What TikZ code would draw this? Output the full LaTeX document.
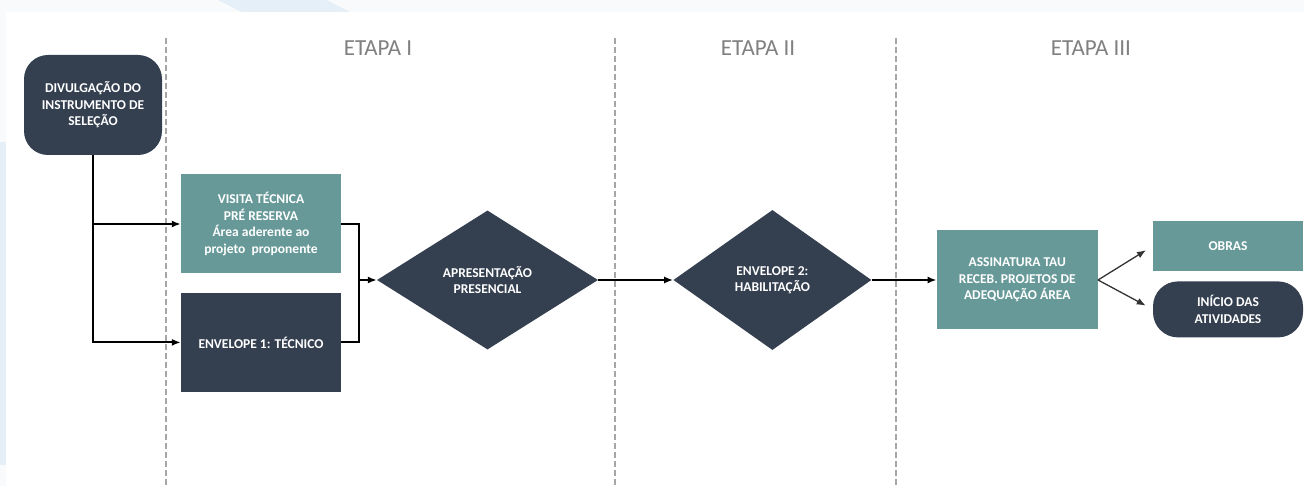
\documentclass[tikz,border=0pt]{standalone}
\usepackage{fontspec}
\setmainfont{Carlito}
\usetikzlibrary{positioning, arrows.meta, shapes}

\definecolor{slate}{RGB}{52,63,80}
\definecolor{petrol}{RGB}{104,153,153}
\definecolor{etapagray}{RGB}{128,128,128}
\definecolor{bgblue}{RGB}{228,239,248}
\definecolor{bgpale}{RGB}{248,250,252}

\begin{document}
\begin{tikzpicture}[x=1pt, y=-1pt, >={Latex[length=9pt, width=7pt]},
    dark/.style={fill=slate, text=white, align=center, inner sep=0pt,
      font=\bfseries\fontsize{13.5}{16.5}\selectfont},
    light/.style={dark, fill=petrol},
    box/.style={rectangle, minimum width=160pt, minimum height=99pt},
    choice/.style={diamond, inner sep=0pt},
    stage/.style={text=etapagray, font=\fontsize{23}{26}\selectfont},
    divider/.style={draw=black!35, line width=1.4pt, dash pattern=on 6pt off 3pt},
    flow/.style={draw=black, line width=1.8pt},
    split/.style={draw=black!80, line width=1.3pt, shorten >=8pt}]
  \useasboundingbox (0,0) rectangle (1304,486);

  % backdrop
  \fill[bgpale] (0,0) rectangle (1304,486);
  \fill[white] (6,12) rectangle (1304,486);
  \fill[bgblue] (0,142) rectangle (6,465);
  \fill[bgblue] (218,0) -- (326,0) -- (350,12) -- (242,12) -- cycle;

  % stages
  \foreach \x in {166,615,896}
    \draw[divider] (\x,38) -- (\x,486);
  \node[stage] (et1) at (378,48) {ETAPA I};
  \node[stage] (et2) at (758,48) {ETAPA II};
  \node[stage] (et3) at (1091,48) {ETAPA III};

  \node[dark, rounded corners=24pt, minimum width=138pt, minimum height=100pt] (div) at (93,105) {DIVULGAÇÃO DO\\INSTRUMENTO DE\\SELEÇÃO};
  \node[light, box] (vis) at (261,224) {VISITA TÉCNICA\\PRÉ RESERVA\\Área aderente ao\\projeto\ \ proponente};
  \node[dark, box, below = 19pt of vis] (env1) {ENVELOPE 1: TÉCNICO};
  \node[dark, choice, minimum width=221pt, minimum height=139pt] (apres) at (487.5,280) {APRESENTAÇÃO\\PRESENCIAL};
  \node[dark, choice, minimum width=198pt, minimum height=140pt, right = 75pt of apres] (env2) {ENVELOPE 2:\\HABILITAÇÃO};
  \node[light, box, minimum width=161pt, right = 65pt of env2] (assin) {ASSINATURA TAU\\RECEB. PROJETOS DE\\ADEQUAÇÃO ÁREA};
  \node[light, minimum width=150pt, minimum height=50pt] (obras) at (1228,246) {OBRAS};
  \node[dark, rounded corners=25pt, minimum width=150pt, minimum height=56pt, below = 10pt of obras] (inicio) {INÍCIO DAS\\ATIVIDADES};

  \coordinate (join) at (359,280);
  \draw[flow, ->] (div.south) |- (vis.west);
  \draw[flow, ->] (div.south) |- (env1.west);
  \draw[flow] (vis.east) -| (join);
  \draw[flow] (env1.east) -| (join);
  \draw[flow, ->] (join) -- (apres.west);
  \draw[flow, ->] (apres.east) -- (env2.west);
  \draw[flow, ->] (env2.east) -- (assin.west);
  \draw[split, ->] (assin.east) -- (obras.west);
  \draw[split, ->] (assin.east) -- (inicio.west);
\end{tikzpicture}
\end{document}
